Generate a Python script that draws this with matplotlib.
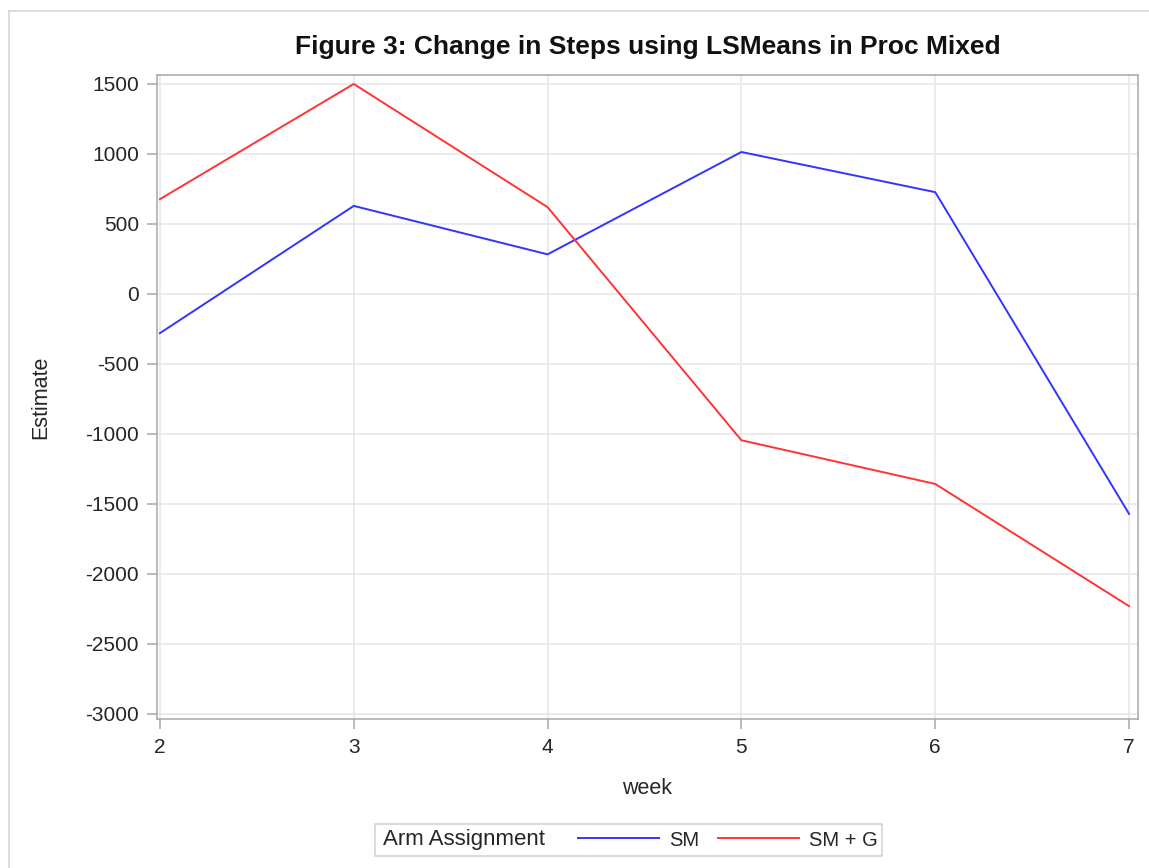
import matplotlib
matplotlib.use("Agg")
import matplotlib.pyplot as plt
from matplotlib.lines import Line2D

weeks = [2, 3, 4, 5, 6, 7]
sm = [-280, 629, 283, 1014, 727, -1571]
sm_g = [677, 1500, 620, -1045, -1357, -2230]
yticks = [1500, 1000, 500, 0, -500, -1000, -1500, -2000, -2500, -3000]
title = "Figure 3: Change in Steps using LSMeans in Proc Mixed"

plt.rcParams['font.family'] = ['Liberation Sans', 'DejaVu Sans']
plt.rcParams['axes.unicode_minus'] = False

W, H = 1149, 868
fig = plt.figure(figsize=(W / 100, H / 100), dpi=100)
L, R, T, B = 157, 1138, 75, 719
ax = fig.add_axes([L / W, 1 - B / H, (R - L) / W, (B - T) / H])

grid_c = '#e4e6e8'
spine_c = '#a4a8ac'
txt_c = '#262626'

ax.plot(weeks, sm, color='#3333ff', lw=1.4, label='SM', zorder=3)
ax.plot(weeks, sm_g, color='#ff3333', lw=1.4, label='SM + G', zorder=3)

ax.set_xlim(1.985, 7.046)
ax.set_ylim(-3036, 1564)
ax.set_xticks(weeks)
ax.set_yticks(yticks)
ax.grid(True, color=grid_c, lw=1.1, zorder=0)
ax.set_axisbelow(True)
for s in ax.spines.values():
    s.set_color(spine_c)
    s.set_linewidth(1.1)
ax.tick_params(axis='both', colors=spine_c, length=7, width=1.1, labelsize=15,
               labelcolor=txt_c)
ax.tick_params(axis='x', pad=7)
ax.tick_params(axis='y', pad=6)

ax.set_xlabel('week', fontsize=15.5, color=txt_c)
ax.set_ylabel('Estimate', fontsize=15.5, color=txt_c)
ax.xaxis.label.set_va('center')
ax.yaxis.label.set_va('center')
ax.xaxis.set_label_coords(((L + R) / 2 - L) / (R - L), (B - 788) / (B - T))
ax.yaxis.set_label_coords((41 - L) / (R - L), (B - 397) / (B - T))

fig.text((L + R) / 2 / W, 1 - 47 / H, title, ha='center', va='center',
         fontsize=19, fontweight='bold', color='#111111')

# legend
handles = [Line2D([], [], color='#3333ff', lw=1.4), Line2D([], [], color='#ff3333', lw=1.4)]
leg = fig.legend(handles, ['SM', 'SM + G'], ncol=2, frameon=False, fontsize=14.5,
                 handlelength=4.0, handletextpad=0.5, columnspacing=0.95,
                 loc='center left', bbox_to_anchor=(560 / W, 1 - 840 / H),
                 labelcolor=txt_c)
fig.text(383 / W, 1 - 839 / H, 'Arm Assignment', ha='left', va='center',
         fontsize=16, color=txt_c)
fig.patches.append(plt.Rectangle((375 / W, 1 - 856 / H), (882 - 375) / W, 32 / H,
                                 transform=fig.transFigure, fill=False,
                                 edgecolor='#cfd1d3', lw=1.1))
# outer frame (partly cropped)
fig.add_artist(Line2D([9 / W, 1.0], [1 - 11 / H, 1 - 11 / H], transform=fig.transFigure,
                      color='#d0d2d4', lw=1.1))
fig.add_artist(Line2D([9 / W, 9 / W], [0, 1 - 11 / H], transform=fig.transFigure,
                      color='#d0d2d4', lw=1.1))

fig.savefig('out.png', dpi=100, facecolor='white')
